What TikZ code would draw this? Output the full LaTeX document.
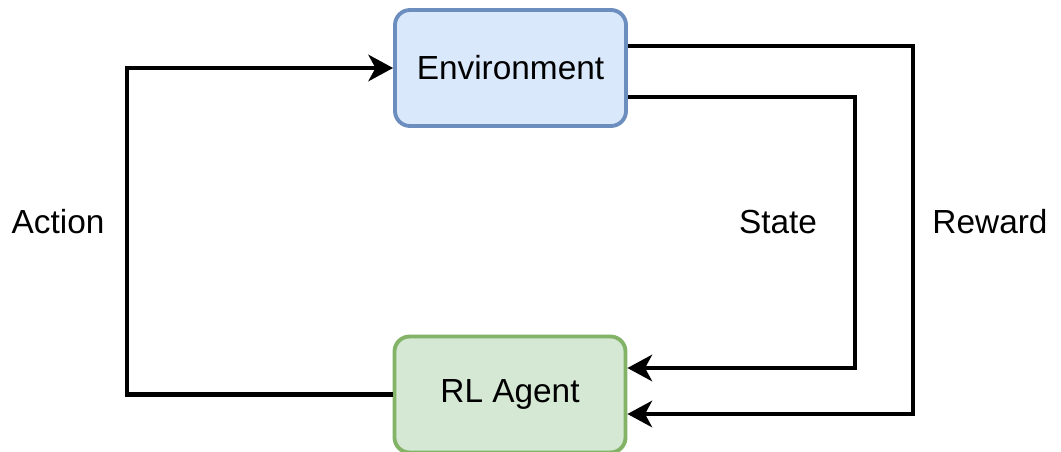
\documentclass[tikz,border=0pt]{standalone}
\usepackage{fontspec}
\setmainfont{Liberation Sans}
\usetikzlibrary{arrows.meta}

\definecolor{envfill}{HTML}{DAE8FC}
\definecolor{envline}{HTML}{6C8EBF}
\definecolor{agentfill}{HTML}{D5E8D4}
\definecolor{agentline}{HTML}{82B366}

\begin{document}
\begin{tikzpicture}[font=\fontsize{19}{23}\selectfont]
\tikzstyle box=[rounded corners=0.3cm,line width=2.2pt,minimum width=4.62cm,minimum height=2.32cm]
\tikzstyle envbox=[style=box,draw=envline,fill=envfill]
\tikzstyle agentbox=[style=box,draw=agentline,fill=agentfill]
\tikzstyle link=[line width=2.8pt,-{Stealth[length=14pt,width=15pt,inset=4pt]}]
\useasboundingbox (0,0) rectangle (21.22,-9.04);
\node[envbox] (env) at (10.21,-1.36) {Environment};
\node[agentbox] (agent) at (10.2,-7.89) {RL Agent};
% loop back
\draw[link] (agent.west) -| (2.54,-4.4) |- (env.west);
\draw[link] ([yshift=-0.58cm]env.east) -| (17.1,-4.4) |- ([yshift=0.53cm]agent.east);
\draw[link] ([yshift=0.44cm]env.east) -| (18.26,-4.4) |- ([yshift=-0.39cm]agent.east);
\node (action) at (1.16,-4.44) {Action};
\node (state) at (15.56,-4.44) {State};
\node (reward) at (19.8,-4.44) {Reward};
\end{tikzpicture}
\end{document}
